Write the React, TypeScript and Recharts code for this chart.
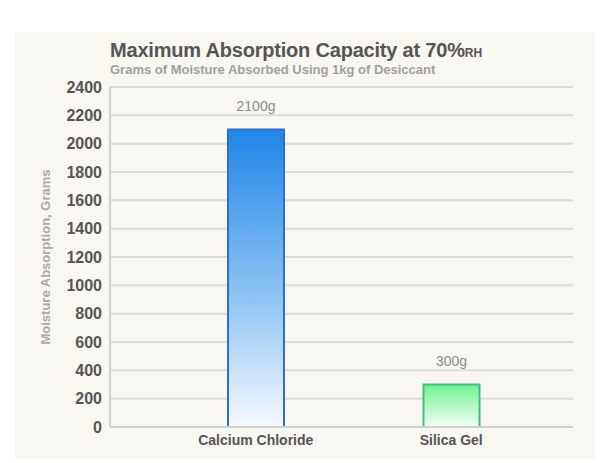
import React from "react"
import { BarChart, Bar, XAxis, YAxis, CartesianGrid, Cell, LabelList } from "recharts"

const categories = ["Calcium Chloride", "Silica Gel"]
const absorption = [2100, 300]
const yTicks = [0, 200, 400, 600, 800, 1000, 1200, 1400, 1600, 1800, 2000, 2200, 2400]

const data = categories.map((name, i) => ({ name, value: absorption[i] }))

const font = "'Liberation Sans', Arial, sans-serif"

const cellStyles = [
  { fill: "url(#gradBlue)", stroke: "#2f6fc4" },
  { fill: "url(#gradGreen)", stroke: "#3fbf85" },
]

function YLabel(props: any) {
  const vb = props.viewBox
  const x = vb.x + 30
  const y = vb.y + vb.height / 2
  return (
    <text
      x={x}
      y={y}
      transform={`rotate(-90, ${x}, ${y})`}
      textAnchor="middle"
      dominantBaseline="central"
      fill="#a9a9a9"
      fontSize={13}
      fontWeight="bold"
      fontFamily={font}
    >
      Moisture Absorption, Grams
    </text>
  )
}

export default function App() {
  return (
    <div style={{ position: "absolute", left: 0, top: 0, width: 616, height: 463, background: "#fff" }}>
      <div
        style={{
          position: "absolute",
          left: 15,
          top: 32,
          width: 580,
          height: 427,
          background: "#f8f7f2",
          fontFamily: font,
        }}
      >
        <div
          style={{
            position: "absolute",
            left: 95,
            top: 7,
            fontSize: 20,
            fontWeight: "bold",
            color: "#555",
            letterSpacing: -0.2,
            whiteSpace: "nowrap",
          }}
        >
          Maximum Absorption Capacity at 70%<span style={{ fontSize: 12, letterSpacing: 0 }}>RH</span>
        </div>
        <div
          style={{
            position: "absolute",
            left: 95,
            top: 30,
            fontSize: 13,
            fontWeight: "bold",
            color: "#a0a0a0",
            whiteSpace: "nowrap",
          }}
        >
          Grams of Moisture Absorbed Using 1kg of Desiccant
        </div>
        <div style={{ position: "absolute", left: 0, top: 0 }}>
          <BarChart
            width={580}
            height={427}
            data={data}
            margin={{ top: 55, right: 22, left: 0, bottom: 0 }}
          >
            <defs>
              <linearGradient id="gradBlue" x1="0" y1="0" x2="0" y2="1">
                <stop offset="0%" stopColor="#1f86e8" />
                <stop offset="55%" stopColor="#8cc2f3" />
                <stop offset="100%" stopColor="#f5f9ff" />
              </linearGradient>
              <linearGradient id="gradGreen" x1="0" y1="0" x2="0" y2="1">
                <stop offset="0%" stopColor="#6ff28f" />
                <stop offset="100%" stopColor="#f4fff6" />
              </linearGradient>
            </defs>
            <CartesianGrid vertical={false} stroke="#dcdcd8" strokeWidth={2} />
            <XAxis
              dataKey="name"
              height={32}
              tickLine={false}
              axisLine={{ stroke: "#cfcfcf", strokeWidth: 2 }}
              padding={{ left: 48, right: 24 }}
              tick={{ fill: "#555", fontSize: 14, fontWeight: "bold", fontFamily: font }}
            />
            <YAxis
              width={95}
              domain={[0, 2400]}
              ticks={yTicks}
              interval={0}
              tickLine={false}
              axisLine={{ stroke: "#cfcfcf", strokeWidth: 2 }}
              tick={{ fill: "#555", fontSize: 16, fontWeight: "bold", fontFamily: font }}
              label={{ content: YLabel }}
            />
            <Bar dataKey="value" barSize={56} strokeWidth={2} isAnimationActive={false}>
              {data.map((d, i) => (
                <Cell key={d.name} fill={cellStyles[i].fill} stroke={cellStyles[i].stroke} />
              ))}
              <LabelList
                dataKey="value"
                position="top"
                offset={19}
                formatter={(v: any) => `${v}g`}
                fill="#8a8a8a"
                fontSize={14}
                fontFamily={font}
              />
            </Bar>
          </BarChart>
        </div>
      </div>
    </div>
  )
}
